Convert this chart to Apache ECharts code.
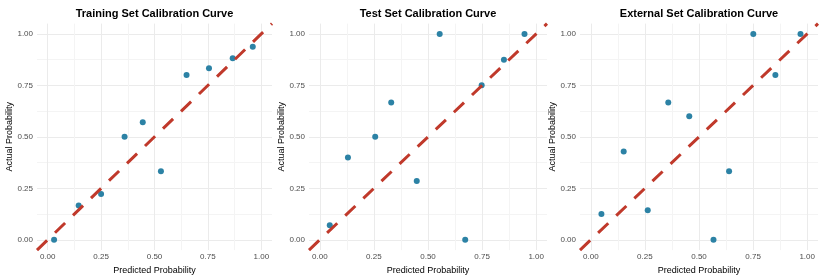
<!DOCTYPE html>
<html>
<head>
<meta charset="utf-8">
<script src="https://cdn.jsdelivr.net/npm/echarts@6/dist/echarts.min.js"></script>
<style>
html,body{margin:0;padding:0;background:#fff;}
#chart{width:825px;height:280px;}
</style>
</head>
<body>
<div id="chart"></div>
<script>
// Panel titles
var titles = ['Training Set Calibration Curve', 'Test Set Calibration Curve', 'External Set Calibration Curve'];
var xAxisTitle = 'Predicted Probability';
var yAxisTitle = 'Actual Probability';

// Tick labels
var majorTicks = [0, 0.25, 0.5, 0.75, 1.0];
var gridTicks = [0, 0.125, 0.25, 0.375, 0.5, 0.625, 0.75, 0.875, 1.0];

// Training set: predicted vs actual
var trainPred   = [0.03, 0.145, 0.25, 0.36, 0.445, 0.53, 0.65, 0.755, 0.866, 0.96];
var trainActual = [0.0, 0.167, 0.222, 0.5, 0.571, 0.333, 0.8, 0.833, 0.882, 0.9375];

// Test set
var testPred   = [0.046, 0.13, 0.256, 0.33, 0.448, 0.554, 0.672, 0.748, 0.851, 0.946];
var testActual = [0.071, 0.4, 0.5, 0.667, 0.286, 1.0, 0.0, 0.75, 0.875, 1.0];

// External set
var extPred   = [0.049, 0.152, 0.263, 0.358, 0.455, 0.567, 0.639, 0.751, 0.853, 0.969];
var extActual = [0.125, 0.429, 0.143, 0.667, 0.6, 0.0, 0.333, 1.0, 0.8, 1.0];

// Perfect-calibration reference line endpoints (axis limits)
var diagonal = [-0.05, 1.05];

var preds = [trainPred, testPred, extPred];
var actuals = [trainActual, testActual, extActual];

var gridBoxes = [
  {left: 37, width: 235, yGap: 18},
  {left: 309, width: 238, yGap: 17},
  {left: 580, width: 238, yGap: 16}
];

var FONT = '"Liberation Sans", Arial, sans-serif';
var chart = echarts.init(document.getElementById('chart'), null, {renderer: 'canvas'});

var grids = [], xAxes = [], yAxes = [], series = [], graphics = [];
for (var i = 0; i < 3; i++) {
  grids.push({left: gridBoxes[i].left, width: gridBoxes[i].width, top: 23.6, height: 228.8, containLabel: false});
  xAxes.push({
    type: 'value', gridIndex: i, min: -0.05, max: 1.05,
    name: xAxisTitle, nameLocation: 'middle', nameGap: 11,
    nameTextStyle: {fontFamily: FONT, fontSize: 9, color: '#000'},
    axisLine: {show: false}, axisTick: {show: false, customValues: gridTicks},
    axisLabel: {customValues: majorTicks, fontFamily: FONT, fontSize: 8, color: '#4D4D4D', margin: 3,
      formatter: function (v) { return v.toFixed(2); }},
    splitLine: {show: true, lineStyle: {color: ['#EBEBEB', '#F4F4F4'], width: 1}}
  });
  yAxes.push({
    type: 'value', gridIndex: i, min: -0.05, max: 1.05,
    name: yAxisTitle, nameLocation: 'middle', nameGap: gridBoxes[i].yGap, nameRotate: 90,
    nameTextStyle: {fontFamily: FONT, fontSize: 9, color: '#000'},
    axisLine: {show: false}, axisTick: {show: false, customValues: gridTicks},
    axisLabel: {customValues: majorTicks, fontFamily: FONT, fontSize: 8, color: '#4D4D4D', margin: 4,
      formatter: function (v) { return v.toFixed(2); }},
    splitLine: {show: true, lineStyle: {color: ['#EBEBEB', '#F4F4F4'], width: 1}}
  });
  var pts = preds[i].map(function (p, k) { return [p, actuals[i][k]]; });
  series.push({
    type: 'scatter', xAxisIndex: i, yAxisIndex: i, data: pts,
    symbolSize: 6, itemStyle: {color: '#2C82A5', opacity: 1}, z: 2, silent: true
  });
  series.push({
    type: 'line', xAxisIndex: i, yAxisIndex: i,
    data: [[diagonal[0], diagonal[0]], [diagonal[1], diagonal[1]]],
    showSymbol: false, symbol: 'none', clip: true,
    lineStyle: {color: '#C0392B', width: 3, type: [14, 11]}, z: 3, silent: true
  });
  graphics.push({
    type: 'text', x: gridBoxes[i].left + gridBoxes[i].width / 2, y: 14,
    style: {text: titles[i], fontFamily: FONT, fontSize: 11, fontWeight: 'bold', fill: '#000',
      align: 'center', verticalAlign: 'middle'}
  });
}

chart.setOption({
  animation: false,
  backgroundColor: '#fff',
  grid: grids, xAxis: xAxes, yAxis: yAxes, series: series,
  graphic: graphics
});
</script>
</body>
</html>
